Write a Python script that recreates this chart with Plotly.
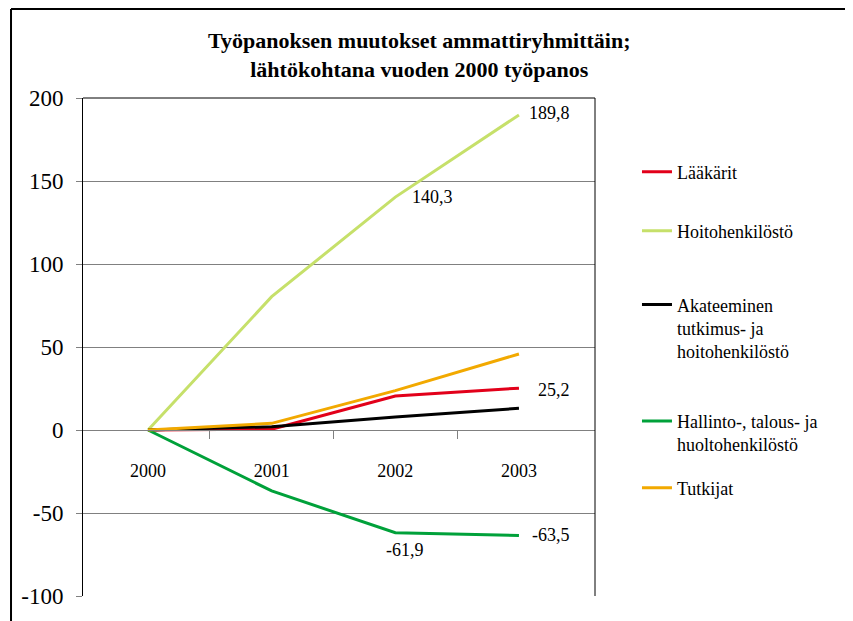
import plotly.graph_objects as go

categories = ["2000", "2001", "2002", "2003"]
laakarit = [0, 0.5, 20.5, 25.2]
hoito = [0, 80.3, 140.3, 189.8]
akateeminen = [0, 2.0, 7.8, 13.1]
hallinto = [0, -36.7, -61.9, -63.5]
tutkijat = [0, 4.0, 23.7, 45.8]

laakarit_labels = ["", "", "", "25,2"]
hoito_labels = ["", "", "140,3", "189,8"]
hallinto_labels = ["", "", "-61,9", "-63,5"]

y_ticks = [-100, -50, 0, 50, 100, 150, 200]

FONT = "Liberation Serif"
xs = list(range(len(categories)))

series = [
    ("Lääkärit", laakarit, "#E2001A", "legend"),
    ("Hoitohenkilöstö", hoito, "#C6E06A", "legend2"),
    ("Akateeminen<br>tutkimus- ja<br>hoitohenkilöstö", akateeminen, "#000000", "legend3"),
    ("Hallinto-, talous- ja<br>huoltohenkilöstö", hallinto, "#00A13A", "legend4"),
    ("Tutkijat", tutkijat, "#F2A900", "legend5"),
]

fig = go.Figure()
for name, vals, color, leg in series:
    fig.add_trace(go.Scatter(
        x=xs, y=vals, mode="lines", name=name,
        line=dict(color=color, width=3), legend=leg,
        hoverinfo="skip",
    ))

# data labels
label_style = {
    ("hoito", 2): dict(xanchor="left", xshift=15, yshift=0),
    ("hoito", 3): dict(xanchor="left", xshift=8, yshift=2),
    ("laakarit", 3): dict(xanchor="left", xshift=17, yshift=-2),
    ("hallinto", 2): dict(xanchor="center", xshift=10, yshift=-17),
    ("hallinto", 3): dict(xanchor="left", xshift=11, yshift=0),
}
annotations = []
for key, vals, labels in [("hoito", hoito, hoito_labels),
                          ("laakarit", laakarit, laakarit_labels),
                          ("hallinto", hallinto, hallinto_labels)]:
    for i, t in enumerate(labels):
        if t:
            st = label_style[(key, i)]
            annotations.append(dict(
                x=xs[i], y=vals[i], xref="x", yref="y", text=t, showarrow=False,
                yanchor="middle", font=dict(family=FONT, size=18, color="black"), **st))

# title
annotations.append(dict(
    x=0.658, y=1.0863, xref="paper", yref="paper", xanchor="center", yanchor="middle",
    text="<b>Työpanoksen muutokset ammattiryhmittäin;<br>lähtökohtana vuoden 2000 työpanos</b>",
    showarrow=False, font=dict(family=FONT, size=22, color="black")))

legend_common = dict(x=1.082, xanchor="left", yanchor="middle", bgcolor="rgba(0,0,0,0)",
                     font=dict(family=FONT, size=18, color="black"), valign="top",
                     itemwidth=30)

fig.update_layout(
    width=845, height=613,
    margin=dict(l=75, r=258, t=90, b=25),
    paper_bgcolor="white", plot_bgcolor="white",
    font=dict(family=FONT, color="black"),
    showlegend=True,
    legend=dict(y=0.8514, **legend_common),
    legend2=dict(y=0.7329, **legend_common),
    legend3=dict(y=0.5373, **legend_common),
    legend4=dict(y=0.3279, **legend_common),
    legend5=dict(y=0.2169, **legend_common),
    annotations=annotations,
    xaxis=dict(
        range=[-0.526, 3.615], tickmode="array", tickvals=xs, ticktext=categories,
        ticks="", showgrid=False, zeroline=False,
        showline=True, linecolor="#808080", linewidth=1,
        anchor="free", position=1/3,
        minor=dict(tickmode="array", tickvals=[0.5, 1.5, 2.5], ticks="outside",
                   ticklen=8, tickcolor="#808080", tickwidth=1, showgrid=False),
        tickfont=dict(family=FONT, size=18, color="black"),
        ticklabelstandoff=24, fixedrange=True,
    ),
    yaxis=dict(
        range=[-100, 200], tickmode="array", tickvals=y_ticks,
        ticktext=[str(v) for v in y_ticks],
        showgrid=True, gridcolor="#808080", gridwidth=1, zeroline=False,
        showline=True, linecolor="black", linewidth=1,
        ticks="outside", ticklen=6, tickcolor="#808080",
        tickfont=dict(family=FONT, size=23, color="black"),
        ticklabelstandoff=8, fixedrange=True,
    ),
    shapes=[
        # plot area top and right border
        dict(type="line", xref="paper", yref="paper", x0=0, x1=1, y0=1, y1=1,
             line=dict(color="black", width=1)),
        dict(type="line", xref="paper", yref="paper", x0=1, x1=1, y0=0, y1=1,
             line=dict(color="black", width=1)),
        # outer chart frame
        dict(type="line", xref="paper", yref="paper", x0=-0.1406, x1=1.52, y0=1.1787, y1=1.1787,
             line=dict(color="black", width=2)),
        dict(type="line", xref="paper", yref="paper", x0=-0.1406, x1=-0.1406, y0=-0.06, y1=1.1787,
             line=dict(color="black", width=2)),
    ],
)

fig.write_html("out.html")
